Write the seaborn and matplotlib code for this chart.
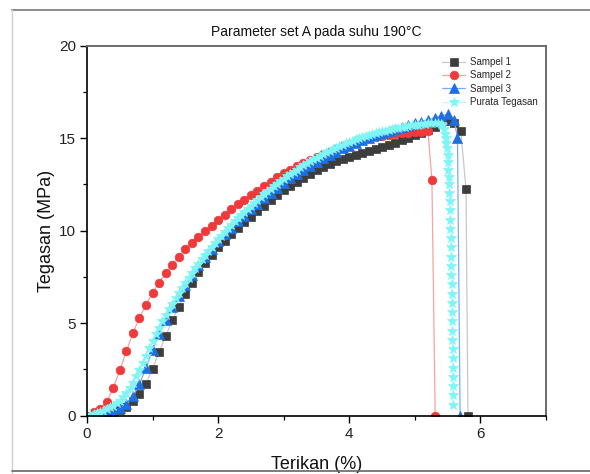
import matplotlib
matplotlib.use("Agg")
import matplotlib.pyplot as plt
import seaborn as sns
import pandas as pd
from matplotlib.lines import Line2D

sns.set_theme(style="white")
plt.rcParams['font.family'] = ['Liberation Sans', 'DejaVu Sans']

# ---------------- data ----------------
strain_grid = [0.0, 0.1, 0.2, 0.3, 0.4, 0.5, 0.6, 0.7, 0.8, 0.9,
               1.0, 1.1, 1.2, 1.3, 1.4, 1.5, 1.6, 1.7, 1.8, 1.9,
               2.0, 2.1, 2.2, 2.3, 2.4, 2.5, 2.6, 2.7, 2.8, 2.9,
               3.0, 3.1, 3.2, 3.3, 3.4, 3.5, 3.6, 3.7, 3.8, 3.9,
               4.0, 4.1, 4.2, 4.3, 4.4, 4.5, 4.6, 4.7, 4.8, 4.9,
               5.0, 5.1, 5.2, 5.3, 5.4, 5.5, 5.6, 5.7]

s1_strain = strain_grid + [5.78, 5.81]
s1_stress = [0.0, 0.02, 0.05, 0.1, 0.18, 0.3, 0.47, 0.8, 1.18, 1.72,
             2.55, 3.45, 4.3, 5.15, 5.9, 6.6, 7.2, 7.75, 8.25, 8.7,
             9.1, 9.45, 9.8, 10.12, 10.45, 10.76, 11.05, 11.35, 11.65, 11.92,
             12.2, 12.42, 12.65, 12.87, 13.08, 13.28, 13.45, 13.6, 13.75, 13.88,
             14.0, 14.1, 14.2, 14.3, 14.4, 14.5, 14.62, 14.75, 14.88, 15.02,
             15.15, 15.3, 15.45, 15.62, 15.8, 15.95, 15.8, 15.4,
             12.25, 0.0]

s2_strain = strain_grid[:53] + [5.26, 5.31]
s2_stress = [0.0, 0.2, 0.38, 0.75, 1.5, 2.45, 3.5, 4.45, 5.3, 6.0,
             6.65, 7.2, 7.7, 8.15, 8.6, 9.0, 9.35, 9.68, 9.98, 10.28,
             10.56, 10.85, 11.15, 11.42, 11.68, 11.93, 12.17, 12.4, 12.65, 12.88,
             13.1, 13.3, 13.48, 13.65, 13.82, 13.97, 14.12, 14.27, 14.42, 14.56,
             14.7, 14.82, 14.92, 15.0, 15.07, 15.12, 15.17, 15.22, 15.26, 15.3,
             15.33, 15.36, 15.38,
             12.75, 0.0]

s3_strain = strain_grid[:57] + [5.65, 5.69]
s3_stress = [0.0, 0.05, 0.1, 0.15, 0.25, 0.4, 0.63, 1.05, 1.7, 2.6,
             3.55, 4.4, 5.15, 5.85, 6.48, 7.08, 7.62, 8.15, 8.6, 9.02,
             9.42, 9.8, 10.15, 10.5, 10.82, 11.15, 11.45, 11.75, 12.05, 12.33,
             12.6, 12.85, 13.08, 13.3, 13.52, 13.72, 13.92, 14.1, 14.28, 14.45,
             14.6, 14.75, 14.9, 15.03, 15.16, 15.28, 15.4, 15.5, 15.6, 15.7,
             15.8, 15.9, 16.0, 16.1, 16.2, 16.3, 16.0,
             15.0, 0.0]

avg_strain = [0.0, 0.05, 0.1, 0.15, 0.2, 0.25, 0.3, 0.35, 0.4, 0.45,
              0.5, 0.55, 0.6, 0.65, 0.7, 0.75, 0.8, 0.85, 0.9, 0.95,
              1.0, 1.05, 1.1, 1.15, 1.2, 1.25, 1.3, 1.35, 1.4, 1.45,
              1.5, 1.55, 1.6, 1.65, 1.7, 1.75, 1.8, 1.85, 1.9, 1.95,
              2.0, 2.05, 2.1, 2.15, 2.2, 2.25, 2.3, 2.35, 2.4, 2.45,
              2.5, 2.55, 2.6, 2.65, 2.7, 2.75, 2.8, 2.85, 2.9, 2.95,
              3.0, 3.05, 3.1, 3.15, 3.2, 3.25, 3.3, 3.35, 3.4, 3.45,
              3.5, 3.55, 3.6, 3.65, 3.7, 3.75, 3.8, 3.85, 3.9, 3.95,
              4.0, 4.05, 4.1, 4.15, 4.2, 4.25, 4.3, 4.35, 4.4, 4.45,
              4.5, 4.55, 4.6, 4.65, 4.7, 4.75, 4.8, 4.85, 4.9, 4.95,
              5.0, 5.05, 5.1, 5.15, 5.2, 5.25, 5.3, 5.35, 5.4,
              5.42, 5.44, 5.46, 5.47, 5.48, 5.49, 5.5, 5.505, 5.51, 5.515,
              5.52, 5.525, 5.53, 5.535, 5.54, 5.543, 5.546, 5.549, 5.552, 5.555,
              5.558, 5.561, 5.564, 5.566, 5.568, 5.57, 5.572, 5.574, 5.575, 5.576,
              5.577, 5.578, 5.579, 5.58, 5.581]
avg_stress = [0.0, 0.05, 0.1, 0.15, 0.2, 0.27, 0.35, 0.45, 0.55, 0.68,
              0.82, 1.0, 1.22, 1.48, 1.78, 2.12, 2.48, 2.86, 3.25, 3.64,
              4.02, 4.4, 4.76, 5.1, 5.43, 5.75, 6.05, 6.35, 6.64, 6.92,
              7.2, 7.46, 7.72, 7.97, 8.21, 8.45, 8.68, 8.9, 9.12, 9.33,
              9.54, 9.74, 9.94, 10.13, 10.32, 10.5, 10.68, 10.86, 11.03, 11.2,
              11.36, 11.52, 11.68, 11.83, 11.98, 12.13, 12.27, 12.41, 12.55, 12.68,
              12.81, 12.94, 13.06, 13.18, 13.3, 13.42, 13.53, 13.64, 13.75, 13.85,
              13.95, 14.05, 14.14, 14.23, 14.32, 14.41, 14.49, 14.57, 14.65, 14.72,
              14.79, 14.86, 14.93, 14.99, 15.05, 15.11, 15.17, 15.22, 15.27, 15.32,
              15.37, 15.41, 15.45, 15.49, 15.53, 15.57, 15.6, 15.63, 15.66, 15.69,
              15.72, 15.74, 15.76, 15.78, 15.8, 15.81, 15.82, 15.82, 15.78,
              15.7, 15.5, 15.25, 15.0, 14.75, 14.45, 14.1, 13.7, 13.3, 12.9,
              12.5, 12.05, 11.6, 11.1, 10.6, 10.1, 9.6, 9.1, 8.6, 8.1,
              7.6, 7.1, 6.6, 6.1, 5.6, 5.1, 4.6, 4.1, 3.6, 3.1,
              2.6, 2.1, 1.6, 1.1, 0.6]

series_names = ["Sampel 1", "Sampel 2", "Sampel 3", "Purata Tegasan"]
x_ticks = [0, 2, 4, 6]
y_ticks = [0, 5, 10, 15, 20]

# ---------------- figure ----------------
fig = plt.figure(figsize=(5.9, 4.74), dpi=100)
fig.patch.set_facecolor("white")
ax = fig.add_axes([87 / 590, 1 - 415.7 / 474, (546 - 87) / 590, (415.7 - 45.7) / 474])

styles = [
    dict(marker="s", ms=5.6, mfc="#3d3d3d", mec="#3d3d3d", color="#c8c8c8", lw=0.9),
    dict(marker="o", ms=6.2, mfc="#ee3a3a", mec="#ee3a3a", color="#f6a3a3", lw=0.9),
    dict(marker="^", ms=6.6, mfc="#1f6fe0", mec="#1f6fe0", color="#7fa9ef", lw=0.9),
    dict(marker="*", ms=7.0, mfc="#7ff5f5", mec="#7ff5f5", color="#c5fbfb", lw=0.9),
]
data = [(s1_strain, s1_stress), (s2_strain, s2_stress),
        (s3_strain, s3_stress), (avg_strain, avg_stress)]

for name, (xs, ys), st in zip(series_names, data, styles):
    df = pd.DataFrame({"Terikan": xs, "Tegasan": ys})
    sns.lineplot(data=df, x="Terikan", y="Tegasan", ax=ax, sort=False,
                 estimator=None, label=name, color=st["color"], lw=st["lw"],
                 marker=st["marker"], markersize=st["ms"],
                 markerfacecolor=st["mfc"], markeredgecolor=st["mec"],
                 markeredgewidth=0.5)

ax.set_xlim(0, 7)
ax.set_ylim(0, 20)
ax.set_xticks(x_ticks)
ax.set_yticks(y_ticks)
ax.set_xticks([1, 3, 5, 7], minor=True)
ax.set_yticks([2.5, 7.5, 12.5, 17.5], minor=True)
ax.tick_params(axis="both", which="major", direction="out", length=5, width=1.0,
               labelsize=11, color="black", bottom=True, left=True, top=False, right=False,
               pad=3, labelcolor="#222222")
ax.tick_params(axis="both", which="minor", direction="out", length=3, width=0.9,
               color="black", bottom=True, left=True, top=False, right=False)

for side in ["left", "bottom"]:
    ax.spines[side].set_color("black")
    ax.spines[side].set_linewidth(1.2)
for side in ["top", "right"]:
    ax.spines[side].set_color("#6a6a6a")
    ax.spines[side].set_linewidth(1.4)
ax.grid(False)

ax.set_xlabel("Terikan (%)", fontsize=13, labelpad=11, color="#111111")
ax.set_ylabel("Tegasan (MPa)", fontsize=13, labelpad=3, color="#111111")
ax.set_title("Parameter set A pada suhu 190°C", fontsize=10, pad=7, color="#111111")

leg = ax.legend(loc="upper right", bbox_to_anchor=(0.995, 0.985), frameon=False,
                fontsize=7, handlelength=2.4, handletextpad=0.5, labelspacing=0.35,
                borderaxespad=0.2)

# outer screenshot frame
fig.add_artist(Line2D([11.5 / 590, 1], [1 - 9.5 / 474, 1 - 9.5 / 474],
                      color="#777777", lw=1.2, transform=fig.transFigure))
fig.add_artist(Line2D([11.5 / 590, 11.5 / 590], [1 - 9.5 / 474, 0],
                      color="#d0d0d0", lw=1.0, transform=fig.transFigure))
fig.add_artist(Line2D([11.5 / 590, 1], [1 - 471 / 474, 1 - 471 / 474],
                      color="#666666", lw=1.2, transform=fig.transFigure))

fig.savefig("out.png", dpi=100)
